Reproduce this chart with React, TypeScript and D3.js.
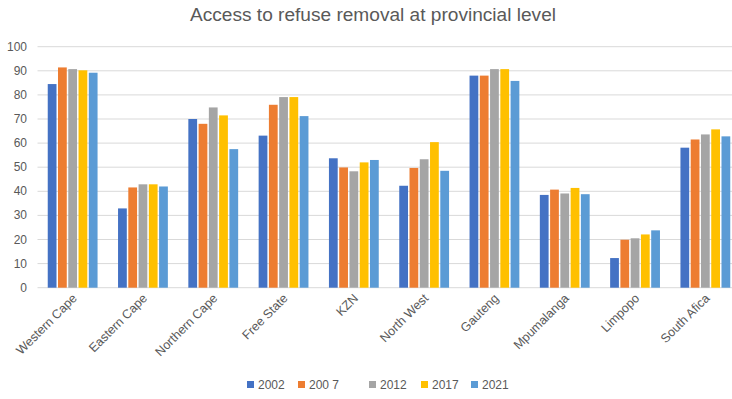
import React from "react";
import * as d3 from "d3";

const title = "Access to refuse removal at provincial level";
const categories = ["Western Cape", "Eastern Cape", "Northern Cape", "Free State", "KZN", "North West", "Gauteng", "Mpumalanga", "Limpopo", "South Afica"];
const seriesNames = ["2002", "200 7", "2012", "2017", "2021"];
const s2002 = [84.5, 32.9, 70.0, 63.1, 53.7, 42.3, 88.0, 38.5, 12.3, 58.1];
const s2007 = [91.4, 41.6, 68.0, 75.9, 49.9, 49.7, 88.0, 40.7, 19.9, 61.5];
const s2012 = [90.7, 42.9, 74.8, 79.1, 48.3, 53.3, 90.7, 39.1, 20.5, 63.6];
const s2017 = [90.2, 42.9, 71.5, 79.1, 52.0, 60.4, 90.7, 41.4, 22.1, 65.7];
const s2021 = [89.2, 42.0, 57.5, 71.2, 53.0, 48.5, 85.8, 38.8, 23.8, 62.8];
const seriesValues = [s2002, s2007, s2012, s2017, s2021];
const colors = ["#4472C4", "#ED7D31", "#A5A5A5", "#FFC000", "#5B9BD5"];
const yTicks = [0, 10, 20, 30, 40, 50, 60, 70, 80, 90, 100];

const W = 732, H = 399;
const plotLeft = 37.5, plotRight = 740.5, plotTop = 46.7, plotBottom = 287.7;
const legendX = [247, 298, 369, 421, 471];

export default function App() {
  const x = d3.scaleBand<string>().domain(categories).range([plotLeft, plotRight]).paddingInner(0.27).paddingOuter(0.135);
  const inner = d3.scaleBand<string>().domain(seriesNames).range([0, x.bandwidth()]);
  const y = d3.scaleLinear().domain([0, 100]).range([plotBottom, plotTop]);
  const font = "'Liberation Sans', Arial, sans-serif";
  return (
    <svg width={W} height={H} style={{ position: "absolute", left: 0, top: 0, background: "#fff" }} fontFamily={font}>
      <rect width={W} height={H} fill="#fff" />
      <text x={373} y={21} textAnchor="middle" fontSize={17.5} fill="#595959" textLength={366} lengthAdjust="spacingAndGlyphs">{title}</text>
      {yTicks.map(t => (
        <g key={t}>
          <line x1={plotLeft} x2={W} y1={y(t)} y2={y(t)} stroke="#D9D9D9" strokeWidth={1} />
          <text x={27} y={y(t) + 4} textAnchor="end" fontSize={12} fill="#595959">{t}</text>
        </g>
      ))}
      {categories.map((c, i) => (
        <g key={c}>
          {seriesNames.map((s, j) => {
            const v = seriesValues[j][i];
            const bx = (x(c) as number) + (inner(s) as number);
            return <rect key={s} x={bx + 0.75} y={y(v)} width={inner.bandwidth() - 1.5} height={plotBottom - y(v)} fill={colors[j]} />;
          })}
          <text transform={`translate(${(x(c) as number) + x.bandwidth() / 2 + 5},${299}) rotate(-45)`} textAnchor="end" fontSize={12.5} fill="#595959">{c}</text>
        </g>
      ))}
      {seriesNames.map((s, j) => (
        <g key={s}>
          <rect x={legendX[j]} y={381} width={7} height={7} fill={colors[j]} />
          <text x={legendX[j] + 11} y={389} fontSize={12} fill="#595959">{s}</text>
        </g>
      ))}
    </svg>
  );
}
